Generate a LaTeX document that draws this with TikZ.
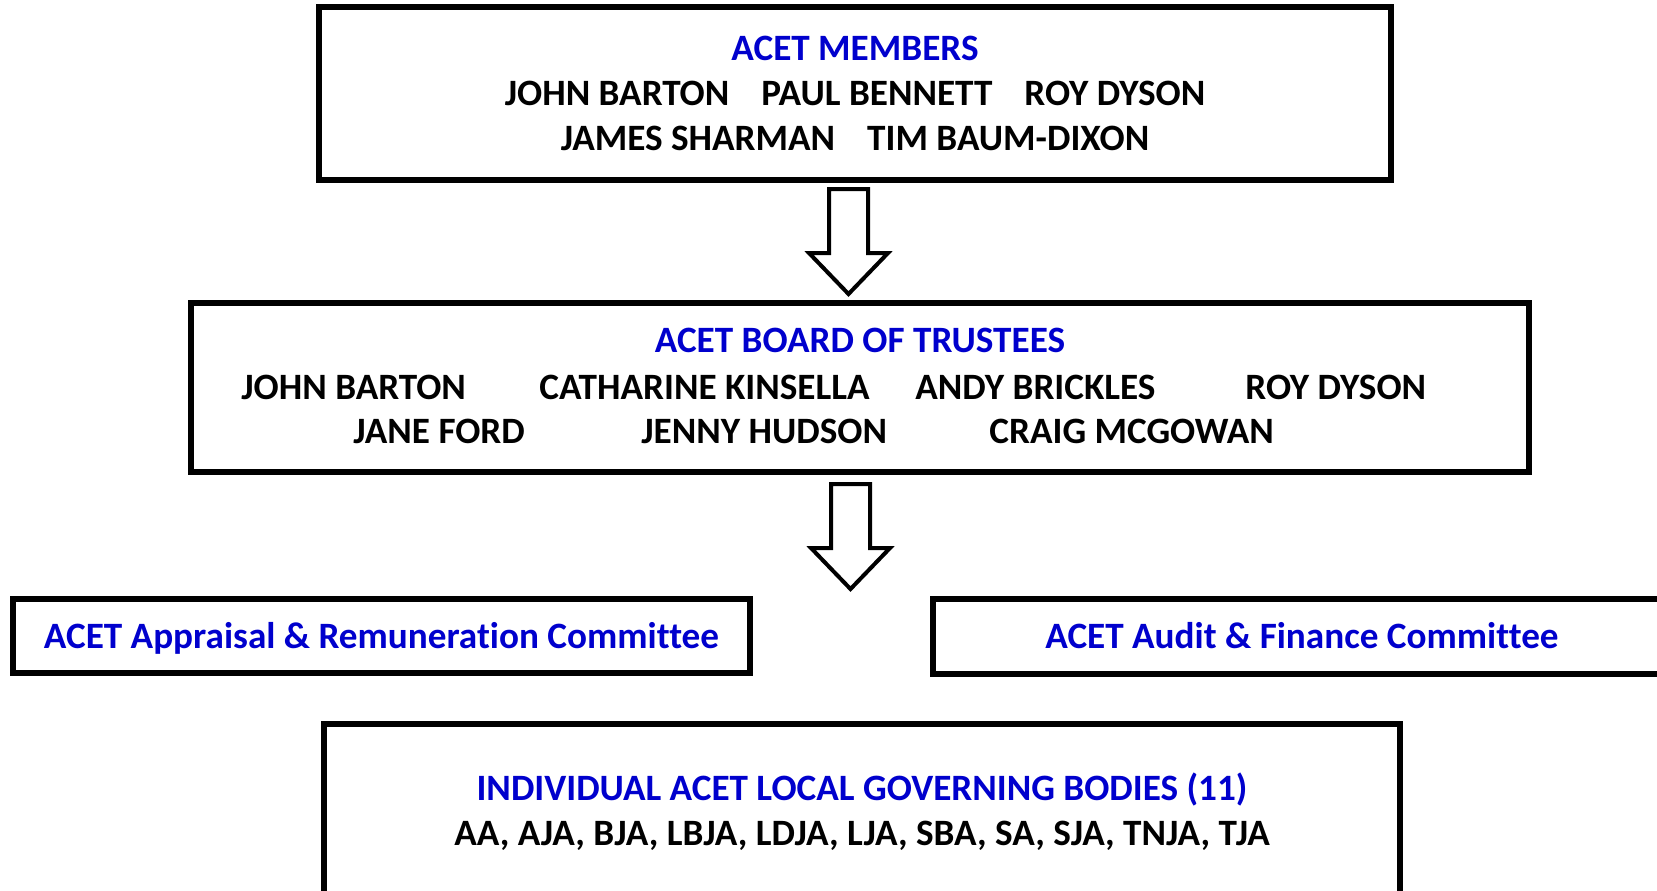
\documentclass[tikz,border=0pt]{standalone}
\usepackage{fontspec}
\setmainfont{Carlito}[Ligatures={NoCommon}]
\definecolor{acetblue}{RGB}{0,0,205}
\begin{document}
\begin{tikzpicture}[x=0.5pt,y=-0.5pt,
    box/.style={draw, line width=3pt, inner sep=0pt, align=center},
    txt/.style={font=\fontsize{18.6}{22.5}\selectfont\bfseries, inner sep=0pt},
    oneline/.style={text height=16pt, text depth=4pt},
    hollow/.style={draw, line width=2pt, fill=white, line join=miter}]
    % page frame (px units, 1657 x 890)
    \useasboundingbox (0,0) rectangle (1657,890);

    % --- ACET members ---
    \node[box, txt, minimum width=536pt, minimum height=86.5pt] (members) at (855,93.5)
        {\textcolor{acetblue}{ACET MEMBERS}\\
         JOHN BARTON\hspace{16pt}PAUL BENNETT\hspace{16pt}ROY DYSON\\
         JAMES SHARMAN\hspace{16pt}TIM BAUM-DIXON};

    % --- board of trustees ---
    \node[box, minimum width=669pt, minimum height=84.5pt] (board) at (860,387.5) {};
    \node[txt, text=acetblue] (boardtitle) at (860,340) {ACET BOARD OF TRUSTEES};
    \node[txt, anchor=west] (barton)   at (241,387) {JOHN BARTON};
    \node[txt, anchor=west] (kinsella) at (539,387) {CATHARINE KINSELLA};
    \node[txt, anchor=west] (brickles) at (915,387) {ANDY BRICKLES};
    \node[txt, anchor=west] (dyson)    at (1245,387) {ROY DYSON};
    \node[txt, anchor=west] (ford)     at (353,431) {JANE FORD};
    \node[txt, anchor=west] (hudson)   at (641,431) {JENNY HUDSON};
    \node[txt, anchor=west] (mcgowan)  at (989,431) {CRAIG MCGOWAN};

    % --- committees ---
    \node[box, txt, oneline, text=acetblue, minimum width=368.5pt, minimum height=37pt] (appraisal) at (381.5,636)
        {ACET Appraisal \& Remuneration Committee};
    \begin{scope}
        \clip (0,0) rectangle (1657,890);
        \node[box, txt, oneline, text=acetblue, minimum width=369pt, minimum height=37.5pt] (audit) at (1302,636.5)
            {ACET Audit \& Finance Committee};

        % --- local governing bodies (runs off the page) ---
        \node[box, txt, minimum width=538pt, minimum height=88pt] (lgb) at (862,812)
            {\textcolor{acetblue}{INDIVIDUAL ACET LOCAL GOVERNING BODIES (11)}\\
             AA, AJA, BJA, LBJA, LDJA, LJA, SBA, SA, SJA, TNJA, TJA};
    \end{scope}

    % --- hollow down arrows ---
    \coordinate (arr1) at (848.5,189);
    \coordinate (arr2) at (850.5,484);
    \foreach \a in {arr1,arr2}
        \draw[hollow] (\a) ++(-19.5,0) -- ++(39,0) -- ++(0,64) -- ++(20,0)
            -- ++(-39.5,41) -- ++(-39.5,-41) -- ++(20,0) -- cycle;

\end{tikzpicture}
\end{document}
